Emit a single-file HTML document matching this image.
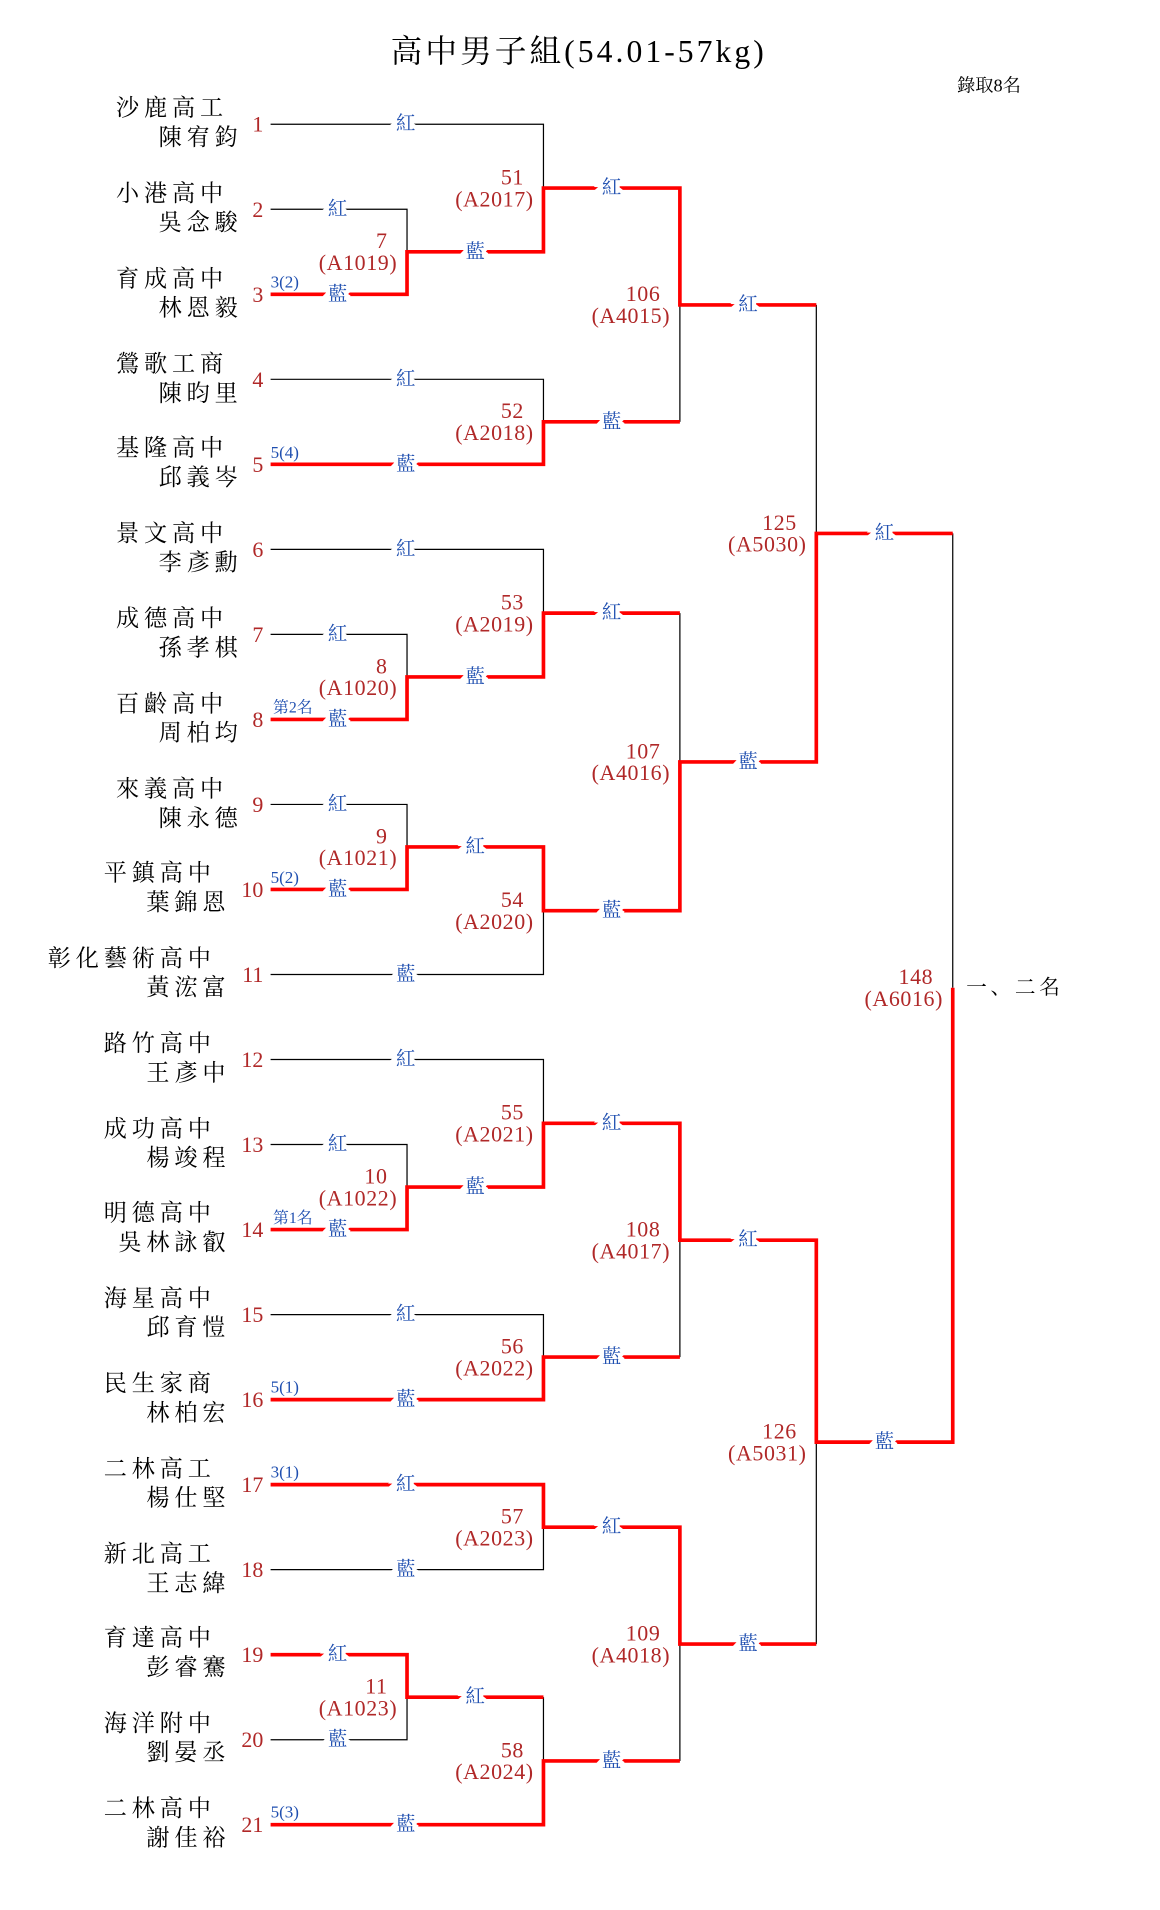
<!DOCTYPE html>
<html><head><meta charset="utf-8"><style>
html,body{margin:0;padding:0;background:#fff;}
svg{display:block;}
text{font-family:"Liberation Serif","Noto Serif CJK SC","Noto Sans CJK TC",serif;}
.k{stroke:#000;stroke-width:1;fill:none;}
.r{stroke:#f00;stroke-width:3;fill:none;}
.lb{fill:#1f4fb0;font-size:16px;text-anchor:middle;stroke:#fff;stroke-width:7px;paint-order:stroke;dominant-baseline:central;}
.n{fill:#b02828;font-size:18px;text-anchor:end;letter-spacing:0.5px;}
.rn{fill:#b02828;font-size:18px;text-anchor:end;dominant-baseline:central;}
.sd{fill:#1f4fb0;font-size:14px;}
.s{fill:#000;font-size:19px;text-anchor:end;letter-spacing:4px;}
</style></head><body>
<svg width="1160" height="1910" viewBox="0 0 952 1568" xmlns="http://www.w3.org/2000/svg">
<text x="475" y="51" font-size="26" text-anchor="middle" fill="#000" letter-spacing="2.5">高中男子組(54.01-57kg)</text>
<text x="838" y="75" font-size="15" text-anchor="end" fill="#000">錄取8名</text>

<g class="s">
<text x="187" y="95">沙鹿高工</text><text x="199" y="119">陳宥鈞</text>
<text x="187" y="165">小港高中</text><text x="199" y="189">吳念駿</text>
<text x="187" y="235">育成高中</text><text x="199" y="259">林恩毅</text>
<text x="187" y="305">鶯歌工商</text><text x="199" y="329">陳昀里</text>
<text x="187" y="374">基隆高中</text><text x="199" y="398">邱義岑</text>
<text x="187" y="444">景文高中</text><text x="199" y="468">李彥勳</text>
<text x="187" y="514">成德高中</text><text x="199" y="538">孫孝棋</text>
<text x="187" y="584">百齡高中</text><text x="199" y="608">周柏均</text>
<text x="187" y="654">來義高中</text><text x="199" y="678">陳永德</text>
<text x="177" y="723">平鎮高中</text><text x="189" y="747">葉錦恩</text>
<text x="177" y="793">彰化藝術高中</text><text x="189" y="817">黃浤富</text>
<text x="177" y="863">路竹高中</text><text x="189" y="887">王彥中</text>
<text x="177" y="933">成功高中</text><text x="189" y="957">楊竣程</text>
<text x="177" y="1002">明德高中</text><text x="189" y="1026">吳林詠叡</text>
<text x="177" y="1072">海星高中</text><text x="189" y="1096">邱育愷</text>
<text x="177" y="1142">民生家商</text><text x="189" y="1166">林柏宏</text>
<text x="177" y="1212">二林高工</text><text x="189" y="1236">楊仕堅</text>
<text x="177" y="1282">新北高工</text><text x="189" y="1306">王志緯</text>
<text x="177" y="1351">育達高中</text><text x="189" y="1375">彭睿騫</text>
<text x="177" y="1421">海洋附中</text><text x="189" y="1445">劉晏丞</text>
<text x="177" y="1491">二林高中</text><text x="189" y="1515">謝佳裕</text>
</g>

<g class="rn">
<text x="216" y="102">1</text><text x="216" y="171.8">2</text><text x="216" y="241.6">3</text>
<text x="216" y="311.4">4</text><text x="216" y="381.2">5</text><text x="216" y="451">6</text>
<text x="216" y="520.8">7</text><text x="216" y="590.6">8</text><text x="216" y="660.4">9</text>
<text x="216" y="730.2">10</text><text x="216" y="800">11</text><text x="216" y="869.8">12</text>
<text x="216" y="939.6">13</text><text x="216" y="1009.4">14</text><text x="216" y="1079.2">15</text>
<text x="216" y="1149">16</text><text x="216" y="1218.8">17</text><text x="216" y="1288.6">18</text>
<text x="216" y="1358.4">19</text><text x="216" y="1428.2">20</text><text x="216" y="1498">21</text>
</g>

<g class="sd">
<text x="222" y="236">3(2)</text>
<text x="222" y="376">5(4)</text>
<text x="224" y="585" font-size="13">第2名</text>
<text x="222" y="725">5(2)</text>
<text x="224" y="1004" font-size="13">第1名</text>
<text x="222" y="1143">5(1)</text>
<text x="222" y="1213">3(1)</text>
<text x="222" y="1492">5(3)</text>
</g>

<g class="k">
<path d="M222 102H446V154.35"/>
<path d="M222 171.8H334V206.7"/>
<path d="M222 311.4H446V346.3"/>
<path d="M222 451H446V503.35"/>
<path d="M222 520.8H334V555.7"/>
<path d="M222 660.4H334V695.3"/>
<path d="M222 800H446V747.65"/>
<path d="M222 869.8H446V922.15"/>
<path d="M222 939.6H334V974.5"/>
<path d="M222 1079.2H446V1114.1"/>
<path d="M222 1288.6H446V1253.7"/>
<path d="M222 1428.2H334V1393.3"/>
<path d="M446 1393.3V1445.65"/>
<path d="M558 250.3V346.3"/>
<path d="M558 503.35V625.5"/>
<path d="M558 1018.1V1114.1"/>
<path d="M558 1349.7V1445.65"/>
<path d="M670 250.3V437.9"/>
<path d="M670 1183.9V1349.7"/>
<path d="M782 437.9V810.9"/>
</g>

<g class="r">
<path d="M222 241.6H334V206.7H446V154.35H558V250.3H670"/>
<path d="M222 381.2H446V346.3H558"/>
<path d="M222 590.6H334V555.7H446V503.35H558"/>
<path d="M222 730.2H334V695.3H446V747.65H558V625.5H670V437.9H782"/>
<path d="M222 1009.4H334V974.5H446V922.15H558V1018.1H670V1183.9H782V810.9"/>
<path d="M222 1149H446V1114.1H558"/>
<path d="M222 1218.8H446V1253.7H558V1349.7H670"/>
<path d="M222 1358.4H334V1393.3H446"/>
<path d="M222 1498H446V1445.65H558"/>
</g>

<g class="lb">
<text x="333" y="102">紅</text>
<text x="277" y="171.8">紅</text><text x="277" y="241.6">藍</text>
<text x="333" y="311.4">紅</text><text x="333" y="381.2">藍</text>
<text x="333" y="451">紅</text>
<text x="277" y="520.8">紅</text><text x="277" y="590.6">藍</text>
<text x="277" y="660.4">紅</text><text x="277" y="730.2">藍</text>
<text x="333" y="800">藍</text>
<text x="333" y="869.8">紅</text>
<text x="277" y="939.6">紅</text><text x="277" y="1009.4">藍</text>
<text x="333" y="1079.2">紅</text><text x="333" y="1149">藍</text>
<text x="333" y="1218.8">紅</text><text x="333" y="1288.6">藍</text>
<text x="277" y="1358.4">紅</text><text x="277" y="1428.2">藍</text>
<text x="333" y="1498">藍</text>
<text x="390" y="206.7">藍</text>
<text x="390" y="555.7">藍</text>
<text x="390" y="695.3">紅</text>
<text x="390" y="974.5">藍</text>
<text x="390" y="1393.3">紅</text>
<text x="502" y="154.35">紅</text><text x="502" y="346.3">藍</text>
<text x="502" y="503.35">紅</text><text x="502" y="747.65">藍</text>
<text x="502" y="922.15">紅</text><text x="502" y="1114.1">藍</text>
<text x="502" y="1253.7">紅</text><text x="502" y="1445.65">藍</text>
<text x="614" y="250.3">紅</text><text x="614" y="625.5">藍</text>
<text x="614" y="1018.1">紅</text><text x="614" y="1349.7">藍</text>
<text x="726" y="437.9">紅</text><text x="726" y="1183.9">藍</text>
</g>

<g class="n">
<text x="318" y="203.7">7</text><text x="326" y="221.7">(A1019)</text>
<text x="318" y="552.7">8</text><text x="326" y="570.7">(A1020)</text>
<text x="318" y="692.3">9</text><text x="326" y="710.3">(A1021)</text>
<text x="318" y="971.5">10</text><text x="326" y="989.5">(A1022)</text>
<text x="318" y="1390.3">11</text><text x="326" y="1408.3">(A1023)</text>
<text x="430" y="151.35">51</text><text x="438" y="169.35">(A2017)</text>
<text x="430" y="343.3">52</text><text x="438" y="361.3">(A2018)</text>
<text x="430" y="500.35">53</text><text x="438" y="518.35">(A2019)</text>
<text x="430" y="744.65">54</text><text x="438" y="762.65">(A2020)</text>
<text x="430" y="919.15">55</text><text x="438" y="937.15">(A2021)</text>
<text x="430" y="1111.1">56</text><text x="438" y="1129.1">(A2022)</text>
<text x="430" y="1250.7">57</text><text x="438" y="1268.7">(A2023)</text>
<text x="430" y="1442.65">58</text><text x="438" y="1460.65">(A2024)</text>
<text x="542" y="247.3">106</text><text x="550" y="265.3">(A4015)</text>
<text x="542" y="622.5">107</text><text x="550" y="640.5">(A4016)</text>
<text x="542" y="1015.1">108</text><text x="550" y="1033.1">(A4017)</text>
<text x="542" y="1346.7">109</text><text x="550" y="1364.7">(A4018)</text>
<text x="654" y="434.9">125</text><text x="662" y="452.9">(A5030)</text>
<text x="654" y="1180.9">126</text><text x="662" y="1198.9">(A5031)</text>
<text x="766" y="807.9">148</text><text x="774" y="825.9">(A6016)</text>
</g>
<text x="793" y="816" font-size="17" fill="#000" letter-spacing="3">一、二名</text>
</svg>
</body></html>
